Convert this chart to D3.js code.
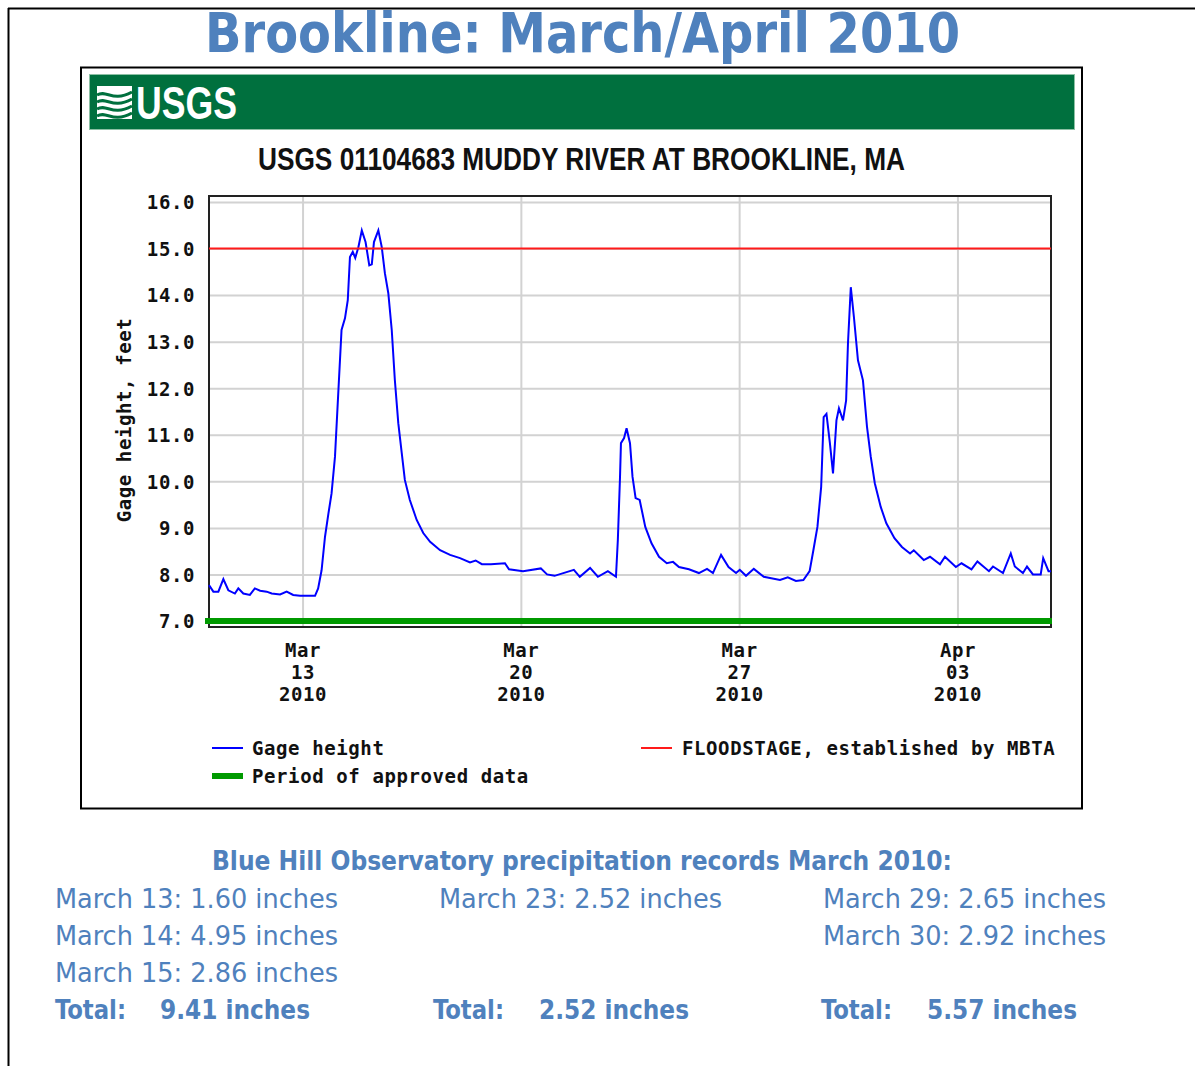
<!DOCTYPE html>
<html>
<head>
<meta charset="utf-8">
<script src="https://cdn.jsdelivr.net/npm/d3@7"></script>
<style>
  body { margin: 0; background: #fff; }
  .mono { font-family: "DejaVu Sans Mono", monospace; font-weight: bold; font-size: 19px; letter-spacing: 0.6px; fill: #111; }
  .blue { fill: #4f81bd; font-family: "Liberation Sans Narrow", "DejaVu Sans Condensed", "Liberation Sans", sans-serif; }
</style>
</head>
<body>
<svg id="page" width="1195" height="1066"></svg>
<script>
// gage height, days after 2010-03-10 00:00
var gageDay = [0.00, 0.14, 0.30, 0.46, 0.62, 0.83, 0.94, 1.10, 1.31, 1.47, 1.64, 1.85, 2.01, 2.28, 2.49, 2.70, 2.92,
  3.40, 3.50, 3.61, 3.72, 3.83, 3.93, 4.04, 4.15, 4.25, 4.36, 4.45, 4.52, 4.61, 4.69, 4.79, 4.90, 5.02, 5.14, 5.22,
  5.29, 5.43, 5.54, 5.64, 5.75, 5.86, 5.96, 6.07, 6.18, 6.28, 6.44, 6.66, 6.87, 7.09, 7.41, 7.73, 8.05, 8.37, 8.55,
  8.75, 9.04, 9.49, 9.62, 10.07, 10.64, 10.84, 11.08, 11.70, 11.89, 12.22, 12.47, 12.79, 13.05, 13.11, 13.18, 13.21,
  13.31, 13.39, 13.50, 13.58, 13.68, 13.81, 13.99, 14.19, 14.43, 14.68, 14.88, 15.07, 15.39, 15.71, 15.97, 16.16,
  16.42, 16.66, 16.90, 17.02, 17.22, 17.47, 17.79, 18.31, 18.56, 18.82, 19.06, 19.26, 19.38, 19.51, 19.63, 19.71,
  19.80, 19.91, 20.01, 20.12, 20.20, 20.33, 20.43, 20.49, 20.58, 20.68, 20.81, 20.97, 21.10, 21.22, 21.35, 21.54,
  21.72, 21.98, 22.22, 22.48, 22.60, 22.92, 23.12, 23.44, 23.60, 23.95, 24.13, 24.45, 24.64, 25.01, 25.14, 25.46,
  25.71, 25.84, 26.10, 26.23, 26.42, 26.67, 26.75, 26.92, 27.00];
var gageFeet = [7.77, 7.63, 7.63, 7.90, 7.66, 7.59, 7.70, 7.59, 7.56, 7.70, 7.65, 7.63, 7.59, 7.57, 7.63, 7.56, 7.54,
  7.54, 7.70, 8.09, 8.81, 9.31, 9.74, 10.53, 11.96, 13.25, 13.50, 13.89, 14.82, 14.93, 14.80, 15.03, 15.39, 15.14, 14.64, 14.66,
  15.14, 15.39, 15.03, 14.47, 14.04, 13.25, 12.17, 11.25, 10.61, 10.03, 9.60, 9.17, 8.89, 8.70, 8.52, 8.42, 8.35, 8.26, 8.30,
  8.22, 8.22, 8.24, 8.11, 8.07, 8.13, 8.00, 7.97, 8.10, 7.95, 8.14, 7.95, 8.07, 7.95, 8.74, 10.10, 10.82,
  10.93, 11.14, 10.82, 10.10, 9.64, 9.60, 9.02, 8.67, 8.38, 8.24, 8.27, 8.16, 8.11, 8.03, 8.12, 8.03,
  8.42, 8.16, 8.03, 8.10, 7.97, 8.12, 7.95, 7.88, 7.94, 7.86, 7.88, 8.07, 8.52, 9.02, 9.88, 11.38,
  11.45, 10.82, 10.17, 11.31, 11.57, 11.31, 11.74, 12.97, 14.17, 13.53, 12.60, 12.17, 11.17, 10.53, 9.96, 9.45,
  9.10, 8.78, 8.59, 8.45, 8.52, 8.31, 8.38, 8.22, 8.38, 8.16, 8.24, 8.11, 8.28, 8.07, 8.17, 8.03,
  8.45, 8.17, 8.03, 8.17, 8.00, 8.00, 8.35, 8.07, 8.07];

var startDate = "2010-03-10";
var endDate = "2010-04-06";
var floodStage = 15.0;
var yTicks = [7, 8, 9, 10, 11, 12, 13, 14, 15, 16];
var xTicks = ["2010-03-13", "2010-03-20", "2010-03-27", "2010-04-03"];

// Blue Hill Observatory rain totals
var rainDays1 = ["March 13", "March 14", "March 15"];
var rainInches1 = [1.60, 4.95, 2.86];
var rainDays2 = ["March 23"];
var rainInches2 = [2.52];
var rainDays3 = ["March 29", "March 30"];
var rainInches3 = [2.65, 2.92];

var parse = d3.utcParse("%Y-%m-%d");
var t0 = parse(startDate);
var series = gageDay.map(function(d, i) {
  return { date: new Date(t0.getTime() + d * 864e5), value: gageFeet[i] };
});

var svg = d3.select("#page");

// page frame lines
svg.append("line").attr("x1", 8).attr("x2", 1195).attr("y1", 8.5).attr("y2", 8.5).attr("stroke", "#000").attr("stroke-width", 2);
svg.append("line").attr("x1", 8.5).attr("x2", 8.5).attr("y1", 8).attr("y2", 1066).attr("stroke", "#000").attr("stroke-width", 2);

svg.append("text")
  .attr("x", 205).attr("y", 52)
  .attr("textLength", 755).attr("lengthAdjust", "spacingAndGlyphs")
  .attr("font-family", "'Liberation Sans Narrow', 'DejaVu Sans Condensed', 'Liberation Sans', sans-serif")
  .attr("font-weight", "bold").attr("font-size", 56).attr("fill", "#4f81bd")
  .text("Brookline: March/April 2010");

// USGS graph box
svg.append("rect").attr("x", 81).attr("y", 67.5).attr("width", 1001).attr("height", 741)
  .attr("fill", "#fff").attr("stroke", "#000").attr("stroke-width", 2);
svg.append("rect").attr("x", 89.5).attr("y", 74.5).attr("width", 985).attr("height", 55)
  .attr("fill", "#00703e").attr("stroke", "#8cc0a4").attr("stroke-width", 1);

// logo
var logo = svg.append("g");
logo.append("rect").attr("x", 97).attr("y", 86).attr("width", 35).attr("height", 33).attr("fill", "#fff");
[0, 7, 14, 21].forEach(function(o) {
  logo.append("path")
    .attr("d", "M97," + (95 + o) + " C107," + (89 + o) + " 112," + (103 + o) + " 132," + (92 + o))
    .attr("fill", "none").attr("stroke", "#00703e").attr("stroke-width", 3);
});
logo.append("text").attr("x", 136).attr("y", 119)
  .attr("textLength", 101).attr("lengthAdjust", "spacingAndGlyphs")
  .attr("font-family", "'Liberation Sans Narrow', 'Liberation Sans', sans-serif")
  .attr("font-weight", "bold").attr("font-size", 47).attr("fill", "#fff")
  .text("USGS");

svg.append("text").attr("x", 258).attr("y", 170)
  .attr("textLength", 647).attr("lengthAdjust", "spacingAndGlyphs")
  .attr("font-family", "'Liberation Sans Narrow', 'Liberation Sans', sans-serif")
  .attr("font-weight", "bold").attr("font-size", 32).attr("fill", "#111")
  .text("USGS 01104683 MUDDY RIVER AT BROOKLINE, MA");

// plot
var plotLeft = 209, plotRight = 1051, plotTop = 196, plotBottom = 627;
var x = d3.scaleUtc().domain([parse(startDate), parse(endDate)]).range([plotLeft, plotRight]);
var y = d3.scaleLinear().domain([7, 16]).range([621, 202]);

svg.append("g").attr("transform", "translate(" + plotLeft + ",0)")
  .call(d3.axisLeft(y).tickValues(yTicks).tickSize(-(plotRight - plotLeft)).tickFormat(""))
  .call(function(g) { g.select(".domain").remove(); })
  .selectAll("line").attr("stroke", "#d2d2d2").attr("stroke-width", 2);

svg.append("g").attr("transform", "translate(0," + plotBottom + ")")
  .call(d3.axisBottom(x).tickValues(xTicks.map(parse)).tickSize(-(plotBottom - plotTop)).tickFormat(""))
  .call(function(g) { g.select(".domain").remove(); })
  .selectAll("line").attr("stroke", "#d2d2d2").attr("stroke-width", 2);

svg.append("rect").attr("x", plotLeft).attr("y", plotTop)
  .attr("width", plotRight - plotLeft).attr("height", plotBottom - plotTop)
  .attr("fill", "none").attr("stroke", "#222").attr("stroke-width", 2);

// approved data bar along 7.0
svg.append("line")
  .attr("x1", x(parse(startDate)) - 4).attr("x2", x(parse(endDate)) + 1)
  .attr("y1", y(7)).attr("y2", y(7))
  .attr("stroke", "#009a00").attr("stroke-width", 6);

var line = d3.line()
  .x(function(d) { return x(d.date); })
  .y(function(d) { return y(d.value); });

svg.append("path").datum(series)
  .attr("d", line)
  .attr("fill", "none").attr("stroke", "#0000ff").attr("stroke-width", 2)
  .attr("stroke-linejoin", "miter");

svg.append("line")
  .attr("x1", plotLeft).attr("x2", plotRight)
  .attr("y1", y(floodStage)).attr("y2", y(floodStage))
  .attr("stroke", "#ff1a1a").attr("stroke-width", 2);

// axis labels
var yAxis = svg.append("g").attr("transform", "translate(" + plotLeft + ",0)")
  .call(d3.axisLeft(y).tickValues(yTicks).tickSize(0).tickPadding(14).tickFormat(d3.format(".1f")));
yAxis.select(".domain").remove();
yAxis.selectAll("text").attr("class", "mono").attr("font-family", null).attr("font-size", null).attr("dy", "0.36em");

var fmts = [d3.utcFormat("%b"), d3.utcFormat("%d"), d3.utcFormat("%Y")];
var xAxis = svg.append("g").attr("transform", "translate(0," + plotBottom + ")")
  .call(d3.axisBottom(x).tickValues(xTicks.map(parse)).tickSize(0));
xAxis.select(".domain").remove();
xAxis.selectAll(".tick text").each(function(d) {
  var t = d3.select(this).text(null).attr("class", "mono").attr("font-family", null).attr("font-size", null)
    .attr("y", 30).attr("dy", null);
  fmts.forEach(function(f, i) {
    t.append("tspan").attr("x", 0).attr("y", 30 + i * 22).text(f(d));
  });
});

svg.append("text").attr("class", "mono")
  .attr("transform", "translate(131,420) rotate(-90)")
  .attr("text-anchor", "middle")
  .text("Gage height, feet");

// legend
var legend = svg.append("g");
legend.append("line").attr("x1", 212).attr("x2", 243).attr("y1", 748).attr("y2", 748).attr("stroke", "#0000ff").attr("stroke-width", 2);
legend.append("text").attr("class", "mono").attr("x", 252).attr("y", 755).text("Gage height");
legend.append("line").attr("x1", 212).attr("x2", 243).attr("y1", 776).attr("y2", 776).attr("stroke", "#009a00").attr("stroke-width", 6);
legend.append("text").attr("class", "mono").attr("x", 252).attr("y", 783).text("Period of approved data");
legend.append("line").attr("x1", 641).attr("x2", 672).attr("y1", 748).attr("y2", 748).attr("stroke", "#ff1a1a").attr("stroke-width", 2);
legend.append("text").attr("class", "mono").attr("x", 682).attr("y", 755).text("FLOODSTAGE, established by MBTA");

// precipitation notes
svg.append("text").attr("class", "blue").attr("x", 212).attr("y", 870)
  .attr("textLength", 740).attr("lengthAdjust", "spacingAndGlyphs")
  .attr("font-weight", "bold").attr("font-size", 26)
  .text("Blue Hill Observatory precipitation records March 2010:");

var fmt2 = d3.format(".2f");
var cols = [
  { days: rainDays1, inches: rainInches1, x: 55, tx: 55, vx: 160 },
  { days: rainDays2, inches: rainInches2, x: 439, tx: 433, vx: 539 },
  { days: rainDays3, inches: rainInches3, x: 823, tx: 821, vx: 927 }
];
cols.forEach(function(c) {
  c.days.forEach(function(day, i) {
    svg.append("text").attr("class", "blue").attr("x", c.x).attr("y", 908 + i * 37)
      .attr("textLength", 283).attr("lengthAdjust", "spacingAndGlyphs")
      .attr("font-size", 26)
      .text(day + ": " + fmt2(c.inches[i]) + " inches");
  });
  svg.append("text").attr("class", "blue").attr("x", c.tx).attr("y", 1019)
    .attr("textLength", 71).attr("lengthAdjust", "spacingAndGlyphs")
    .attr("font-weight", "bold").attr("font-size", 27)
    .text("Total:");
  svg.append("text").attr("class", "blue").attr("x", c.vx).attr("y", 1019)
    .attr("textLength", 150).attr("lengthAdjust", "spacingAndGlyphs")
    .attr("font-weight", "bold").attr("font-size", 27)
    .text(fmt2(d3.sum(c.inches)) + " inches");
});
</script>
</body>
</html>
